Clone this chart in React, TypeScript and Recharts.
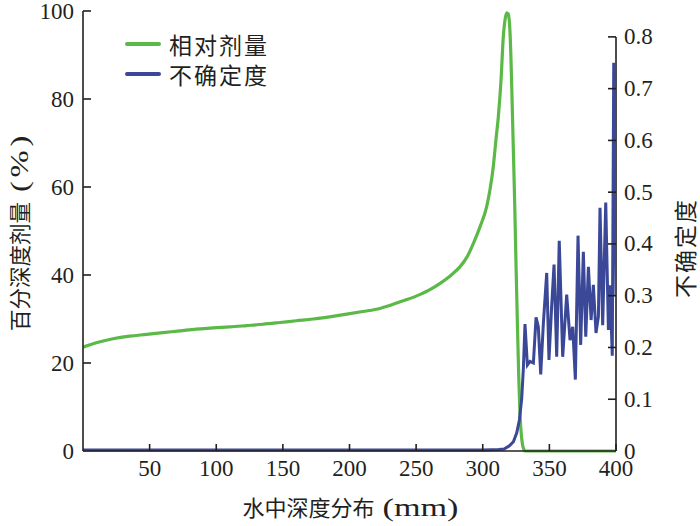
import React from 'react';
import { LineChart, Line, XAxis, YAxis, Legend, ReferenceLine } from 'recharts';

// ---- tick labels ----
const depthTicks = [50, 100, 150, 200, 250, 300, 350, 400];
const doseTicks = [0, 20, 40, 60, 80, 100];
const uncTicks = [0, 0.1, 0.2, 0.3, 0.4, 0.5, 0.6, 0.7, 0.8];

// ---- series names ----
const doseName = '相对剂量';
const uncName = '不确定度';

// ---- relative dose (%) vs depth (mm) ----
const doseDepth = [
  0, 10, 22.5, 35, 47.8, 60, 72.8, 85, 97.7, 110, 122.8, 135, 147.8, 160, 172.8, 185, 197.9, 210,
  222.9, 238, 250, 260, 268, 276, 283, 288, 293, 298, 302.9, 305.4, 307.9, 309.9, 311.7, 313.7, 315.4,
  317, 318, 319, 320, 321, 322, 323, 324, 325, 326, 327, 328, 329, 330, 331, 332, 340, 360, 380, 400,
];
const doseValue = [
  23.6, 24.6, 25.5, 26.1, 26.5, 26.9, 27.3, 27.7, 28.0, 28.2, 28.5, 28.8, 29.2, 29.6, 30.0, 30.5, 31.1, 31.7,
  32.4, 33.9, 35.2, 36.6, 38.1, 39.9, 41.9, 44.0, 47.2, 51.0, 55.5, 59.3, 64.6, 70.7, 76.0, 84.2, 94.0,
  98.5, 99.6, 99.4, 97.5, 91.0, 80.0, 68.0, 56.0, 42.0, 29.0, 17.0, 8.0, 3.5, 1.2, 0.3, 0, 0, 0, 0, 0,
];

// ---- uncertainty vs depth (mm) ----
const uncDepth = [
  0, 100, 200, 300, 312, 316, 320, 323, 325.5, 327.5, 329.2, 330.5, 331.7, 333.5, 335.5, 338, 340,
  341.7, 343.5, 345.5, 348, 349.7, 351.7, 353.5, 355.5, 357.4, 360, 363, 365.5, 367.5, 369.5, 371.5,
  373.5, 375.5, 377.3, 379.3, 381.3, 383, 385, 386.8, 388, 390, 392.3, 394.3, 395.5, 397.2, 398.3,
  399.2, 400,
];
const uncValue = [
  0.002, 0.002, 0.002, 0.002, 0.003, 0.004, 0.01, 0.018, 0.035, 0.06, 0.1, 0.16, 0.245, 0.166, 0.173, 0.17, 0.258,
  0.24, 0.148, 0.247, 0.344, 0.176, 0.279, 0.36, 0.182, 0.406, 0.182, 0.302, 0.214, 0.24, 0.138, 0.416,
  0.205, 0.385, 0.221, 0.356, 0.253, 0.321, 0.228, 0.26, 0.47, 0.243, 0.48, 0.234, 0.32, 0.184, 0.75,
  0.55, 0.3,
];

const doseData = doseDepth.map((x, i) => ({ x, y: doseValue[i] }));
const uncData = uncDepth.map((x, i) => ({ x, y: uncValue[i] }));

const AXIS = '#231f20';
const GREEN = '#5bb947';
const BLUE = '#3b4898';
const SERIF = "'Liberation Serif', Tinos, 'Times New Roman', serif";
const CJK = "'Noto Sans CJK SC', sans-serif";

const serifStyle = { fontFamily: SERIF };
const cjkStyle = { fontFamily: CJK };

const LeftTick = (props: any) => {
  const { x, y, payload } = props;
  return (
    <g>
      {payload.value !== 0 && <line x1={x} x2={x + 8} y1={y} y2={y} stroke={AXIS} strokeWidth={1.6} />}
      <text x={x - 9} y={y} textAnchor="end" dominantBaseline="central" style={serifStyle} fontSize={23} fill={AXIS}>
        {payload.value}
      </text>
    </g>
  );
};

const RightTick = (props: any) => {
  const { x, y, payload } = props;
  const v = payload.value;
  return (
    <g>
      {v !== 0 && <line x1={x} x2={x - 8} y1={y} y2={y} stroke={AXIS} strokeWidth={1.6} />}
      <text x={x + 8} y={y} textAnchor="start" dominantBaseline="central" style={serifStyle} fontSize={23} fill={AXIS}>
        {v === 0 ? '0' : v.toFixed(1)}
      </text>
    </g>
  );
};

const BottomTick = (props: any) => {
  const { x, y, payload } = props;
  return (
    <g>
      <line x1={x} x2={x} y1={y} y2={y - 7} stroke={AXIS} strokeWidth={1.6} />
      <text x={x} y={y + 25} textAnchor="middle" style={serifStyle} fontSize={23} fill={AXIS}>
        {payload.value}
      </text>
    </g>
  );
};

const XTitle = (props: any) => {
  const vb = props.viewBox;
  const cx = vb.x + vb.width / 2;
  const cy = vb.y + 55;
  return (
    <g>
      <text x={cx - 107} y={cy} dominantBaseline="central" style={cjkStyle} fontSize={22} fill={AXIS}>
        水中深度分布
      </text>
      <text x={cx + 33} y={cy + 1} dominantBaseline="central" style={serifStyle} fontSize={26} fill={AXIS}
        textLength={76} lengthAdjust="spacingAndGlyphs">
        (mm)
      </text>
    </g>
  );
};

const LeftTitle = (props: any) => {
  const vb = props.viewBox;
  const cx = vb.x + 18;
  const cy = vb.y + vb.height / 2;
  return (
    <g transform={`translate(${cx}, ${cy}) rotate(-90)`}>
      <text x={-100} y={0} dominantBaseline="central" style={cjkStyle} fontSize={21.5} fill={AXIS}>
        百分深度剂量
      </text>
      <text x={39} y={1} dominantBaseline="central" style={serifStyle} fontSize={26} fill={AXIS}
        letterSpacing={3} textLength={60} lengthAdjust="spacingAndGlyphs">
        (%)
      </text>
    </g>
  );
};

const RightTitle = (props: any) => {
  const vb = props.viewBox;
  const cx = vb.x + 68;
  const cy = vb.y + vb.height / 2 + 17;
  return (
    <g transform={`translate(${cx}, ${cy}) rotate(-90)`}>
      <text x={0} y={0} textAnchor="middle" dominantBaseline="central" style={cjkStyle} fontSize={23}
        letterSpacing={2} fill={AXIS}>
        {uncName}
      </text>
    </g>
  );
};

const legendItems = [
  { name: doseName, color: GREEN },
  { name: uncName, color: BLUE },
];

const renderLegend = () => (
  <div style={{ display: 'flex', flexDirection: 'column' }}>
    {legendItems.map((it) => (
      <div key={it.name} style={{ display: 'flex', alignItems: 'center', height: 30 }}>
        <div style={{ width: 36, height: 4, borderRadius: 2, background: it.color }} />
        <span style={{ marginLeft: 8, fontFamily: CJK, fontSize: 23, letterSpacing: 2, color: AXIS, lineHeight: '26px' }}>
          {it.name}
        </span>
      </div>
    ))}
  </div>
);

export default function App() {
  return (
    <div style={{ position: 'absolute', left: 0, top: 0, width: 700, height: 526, background: '#fff' }}>
      <LineChart width={700} height={526} margin={{ top: 11, right: 0, bottom: 0, left: 0 }}>
        <XAxis
          type="number"
          dataKey="x"
          domain={[0, 400]}
          ticks={depthTicks}
          allowDataOverflow
          height={75}
          tickSize={0}
          tickMargin={0}
          tick={<BottomTick />}
          tickLine={false}
          axisLine={{ stroke: AXIS, strokeWidth: 1.6 }}
          label={{ content: XTitle }}
        />
        <YAxis
          yAxisId="left"
          orientation="left"
          domain={[0, 100]}
          ticks={doseTicks}
          width={83}
          tickSize={0}
          tickMargin={0}
          tick={<LeftTick />}
          tickLine={false}
          axisLine={{ stroke: AXIS, strokeWidth: 1.6 }}
          label={{ content: LeftTitle }}
        />
        <YAxis
          yAxisId="right"
          orientation="right"
          domain={[0, 0.85]}
          ticks={uncTicks}
          width={84}
          tickSize={0}
          tickMargin={0}
          tick={<RightTick />}
          tickLine={false}
          axisLine={false}
          label={{ content: RightTitle }}
        />
        <ReferenceLine
          yAxisId="right"
          segment={[{ x: 400, y: 0 }, { x: 400, y: 0.8 }]}
          stroke={AXIS}
          strokeWidth={1.6}
          ifOverflow="visible"
        />
        <Legend
          layout="horizontal"
          verticalAlign="middle"
          align="center"
          content={renderLegend}
          wrapperStyle={{ left: 125, top: 29, width: 'auto', height: 'auto' }}
        />
        <Line
          yAxisId="left"
          data={doseData}
          dataKey="y"
          name={doseName}
          type="monotone"
          stroke={GREEN}
          strokeWidth={3.2}
          dot={false}
          activeDot={false}
          isAnimationActive={false}
        />
        <Line
          yAxisId="right"
          data={uncData}
          dataKey="y"
          name={uncName}
          type="linear"
          stroke={BLUE}
          strokeWidth={3}
          dot={false}
          activeDot={false}
          isAnimationActive={false}
        />
      </LineChart>
    </div>
  );
}
